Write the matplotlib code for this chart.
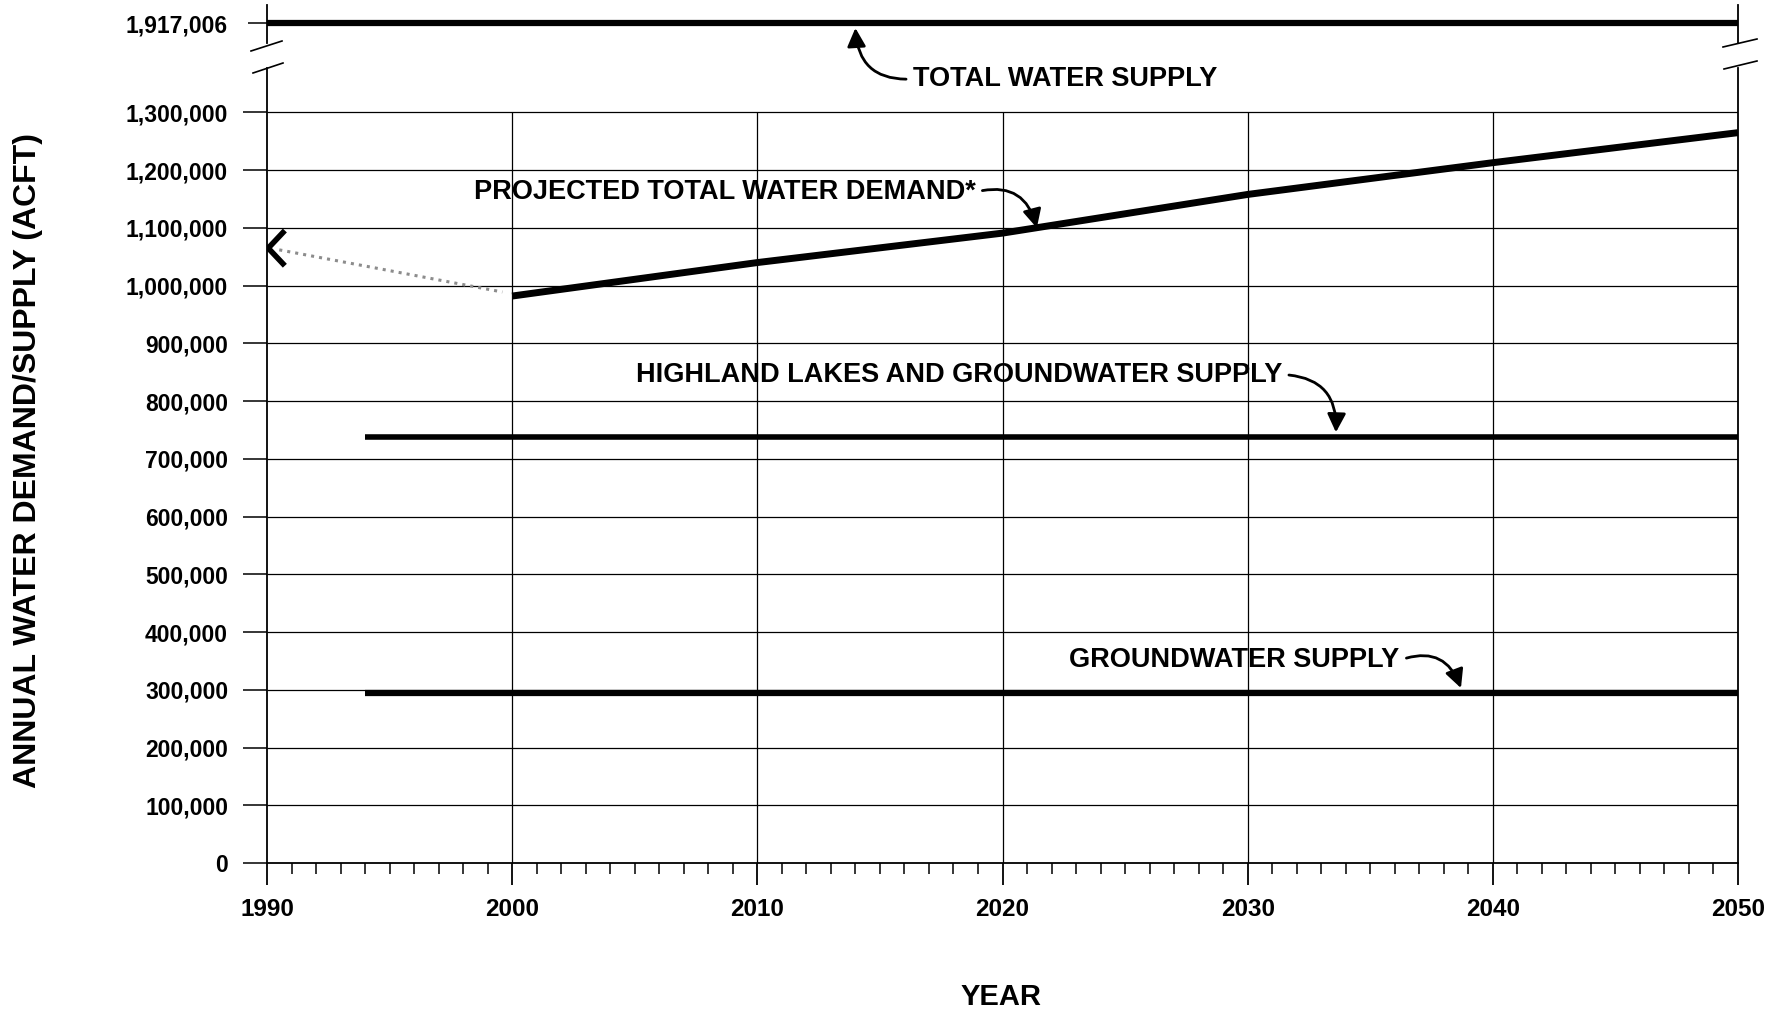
import numpy as np
import matplotlib
matplotlib.use("Agg")
import matplotlib.pyplot as plt
from matplotlib.lines import Line2D
from matplotlib.ticker import FuncFormatter, MultipleLocator

# data (acre-feet per year)
total_supply = 1917006
supply_years = [1990, 2050]

demand_years = [2000, 2010, 2020, 2030, 2040, 2050]
demand_values = [982000, 1040000, 1091000, 1158000, 1213000, 1265000]

historic_years = [1990.5, 1995, 1999.6]
historic_values = [1062000, 1026000, 989000]

highland_years = [1994, 2050]
highland_values = [737000, 737000]

ground_years = [1994, 2050]
ground_values = [295000, 295000]

plt.rcParams['font.family'] = ['Liberation Sans', 'DejaVu Sans']
plt.rcParams['font.weight'] = 'bold'

W, H = 1777, 1015
fig = plt.figure(figsize=(W / 100, H / 100), dpi=100)

def fx(px):
    return px / W

def fy(py):
    return 1 - py / H

# main axes: 0 .. just under 1.4M, broken at top
ax = fig.add_axes([fx(267), fy(863), fx(1738) - fx(267), fy(68) - fy(863)])
ax.set_xlim(1990, 2050)
ax.set_ylim(0, 1377000)
ax.spines['top'].set_visible(False)
for s in ['left', 'right', 'bottom']:
    ax.spines[s].set_linewidth(1.3)

yticks = np.arange(0, 1300001, 100000)
ax.set_yticks(yticks)
ax.yaxis.set_major_formatter(FuncFormatter(lambda v, p: f"{int(v):,}"))
ax.set_xticks([1990, 2000, 2010, 2020, 2030, 2040, 2050])
ax.xaxis.set_minor_locator(MultipleLocator(1))
ax.tick_params(axis='y', direction='out', length=17, width=1.1, pad=11, labelsize=16.5)
ax.tick_params(axis='x', which='major', direction='out', length=16, width=1.3, pad=9, labelsize=17.5)
ax.tick_params(axis='x', which='minor', direction='out', length=8, width=1.1)
for lab in ax.get_xticklabels() + ax.get_yticklabels():
    lab.set_fontweight('bold')

# grid
ax.hlines(yticks[1:], 1990, 2050, color='black', lw=0.9, zorder=1)
ax.vlines([2000, 2010, 2020, 2030, 2040], 0, 1300000, color='black', lw=0.9, zorder=1)

# series
ax.plot(demand_years, demand_values, color='black', lw=5, solid_capstyle='butt', zorder=3)
ax.plot(historic_years, historic_values, color='0.55', lw=2.2, ls=':', zorder=3)
ax.plot([1990.65, 1990.05, 1990.65], [1092000, 1065000, 1038000], color='black', lw=4, zorder=3)
ax.plot(highland_years, highland_values, color='black', lw=4, solid_capstyle='butt', zorder=3)
ax.plot(ground_years, ground_values, color='black', lw=4.5, solid_capstyle='butt', zorder=3)

# top axes for the total supply above the break
ax_top = fig.add_axes([fx(267), fy(43), fx(1738) - fx(267), fy(5) - fy(43)])
ax_top.patch.set_visible(False)
ax_top.set_xlim(1990, 2050)
ax_top.set_ylim(total_supply - 20000, total_supply + 18000)
ax_top.spines['top'].set_visible(False)
ax_top.spines['bottom'].set_visible(False)
for s in ['left', 'right']:
    ax_top.spines[s].set_linewidth(1.3)
ax_top.set_xticks([])
ax_top.set_yticks([total_supply])
ax_top.yaxis.set_major_formatter(FuncFormatter(lambda v, p: f"{int(v):,}"))
ax_top.tick_params(axis='y', direction='out', length=14, width=1.1, pad=14, labelsize=16.5)
for lab in ax_top.get_yticklabels():
    lab.set_fontweight('bold')
ax_top.plot(supply_years, [total_supply, total_supply], color='black', lw=4.5,
            solid_capstyle='butt', clip_on=False)

# break marks
for (x1, y1, x2, y2) in [(251, 51, 282, 41), (253, 73, 283, 63),
                         (1723, 47, 1757, 39), (1724, 69, 1757, 61)]:
    fig.add_artist(Line2D([fx(x1), fx(x2)], [fy(y1), fy(y2)], color='black', lw=1.2,
                          transform=fig.transFigure))

arrow = dict(arrowstyle='-|>', color='black', lw=2, mutation_scale=28,
             connectionstyle='arc3,rad=-0.5', shrinkA=3, shrinkB=0)
label_kw = dict(fontsize=19.5, fontweight='bold', va='center', annotation_clip=False)

ax.annotate('TOTAL WATER SUPPLY', xy=(2014.0, total_supply - 5000), xycoords=ax_top.transData,
            xytext=(2016.35, 1358000), textcoords='data', ha='left',
            arrowprops=dict(arrow, relpos=(0, 0.5)), **label_kw)
ax.annotate('PROJECTED TOTAL WATER DEMAND*', xy=(2021.4, 1100000),
            xytext=(2018.9, 1162000), ha='right',
            arrowprops=dict(arrow, relpos=(1, 0.5)), **label_kw)
ax.annotate('HIGHLAND LAKES AND GROUNDWATER SUPPLY', xy=(2033.6, 746000),
            xytext=(2031.4, 846000), ha='right',
            arrowprops=dict(arrow, relpos=(1, 0.5)), **label_kw)
ax.annotate('GROUNDWATER SUPPLY', xy=(2038.7, 303000),
            xytext=(2036.2, 351000), ha='right',
            arrowprops=dict(arrow, relpos=(1, 0.5)), **label_kw)

fig.text(fx(28), fy(460), 'ANNUAL WATER DEMAND/SUPPLY (ACFT)', rotation=90,
         ha='center', va='center', fontsize=23, fontweight='bold')
fig.text(fx(1001), fy(997), 'YEAR', ha='center', va='center', fontsize=21, fontweight='bold')

fig.savefig('out.png', dpi=100)
